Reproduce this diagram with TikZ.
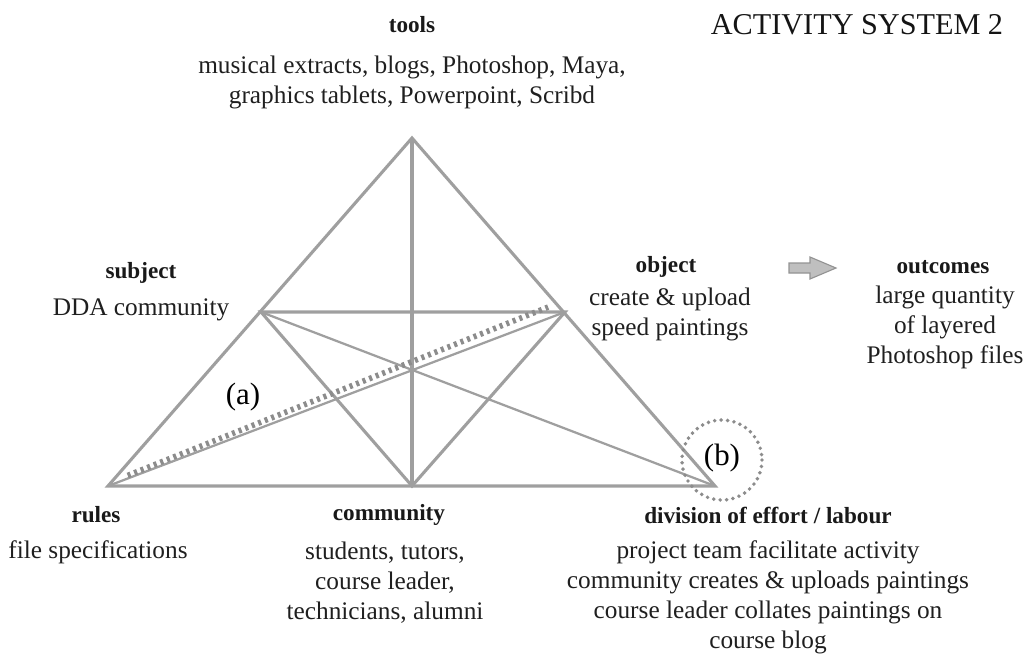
\documentclass[tikz,border=0pt]{standalone}
\usepackage{fontspec}
\setmainfont{Liberation Serif}
\usetikzlibrary{positioning}

\begin{document}
\begin{tikzpicture}[x=0.025cm, y=-0.025cm,
    edge/.style={draw=gray!75, line width=2.2pt, line join=miter},
    thinedge/.style={draw=gray!75, line width=1.6pt},
    head/.style={font=\fontsize{16.5}{19}\selectfont\bfseries, text=black!90},
    body/.style={font=\fontsize{18}{21.3}\selectfont, text=black!88, align=center},
    tag/.style={font=\fontsize{22}{24}\selectfont, text=black}]
    \useasboundingbox (0,0) rectangle (1034,654);
    % corners of the triangle
    \coordinate (tl) at (412,138);
    \coordinate (rl) at (108,486);
    \coordinate (dv) at (715,486);
    \coordinate (sb) at (261,312);
    \coordinate (ob) at (565,312);
    \coordinate (cm) at (412,486);
    % lines
    \draw[edge] (rl) -- (tl) -- (dv) -- cycle;
    \draw[edge] (sb) -- (ob) -- (cm) -- cycle;
    \draw[edge] (tl) -- (cm);
    \draw[thinedge] (sb) -- (dv);
    \draw[thinedge] (rl) -- (ob);
    \draw[draw=gray!90, line width=4pt, dash pattern=on 2.2pt off 2.8pt]
        ([xshift=14pt, yshift=7.5pt]rl) -- ([xshift=-12pt, yshift=3.5pt]ob);
    \draw[draw=gray!90, line width=2.8pt, line cap=round, dash pattern=on 0pt off 4.6pt]
        (722,460) circle [radius=40];
    \node[tag] (a) at (243,397) {(a)};
    \node[tag] (b) at (722,458) {(b)};
    % arrow to outcomes
    \draw[draw=gray!85, fill=gray!50, line width=0.8pt] (789,263) -- (810,263) -- (810,257)
        -- (836,268) -- (810,279) -- (810,273) -- (789,273) -- cycle;
    % labels
    \node[font=\fontsize{21.5}{24}\selectfont, text=black!92] (title) at (857,25) {ACTIVITY SYSTEM 2};
    \node[head] (toolsh) at (412,25) {tools};
    \node[body] (toolst) at (412,82) {musical extracts, blogs, Photoshop, Maya,\\graphics tablets, Powerpoint, Scribd};
    \node[head] (subjh) at (141,273) {subject};
    \node[body] (subjt) at (141,310) {DDA community};
    \node[head] (objh) at (666,267) {object};
    \node[body] (objt) at (670,314) {create \& upload\\speed paintings};
    \node[head] (outh) at (943,267) {outcomes};
    \node[body] (outt) at (945,327) {large quantity\\of layered\\Photoshop files};
    \node[head] (rulh) at (96,515) {rules};
    \node[body] (rult) at (98,552) {file specifications};
    \node[head] (comh) at (389,515) {community};
    \node[body] (comt) at (385,583) {students, tutors,\\course leader,\\technicians, alumni};
    \node[head] (divh) at (768,515) {division of effort / labour};
    \node[body] (divt) at (768,597) {project team facilitate activity\\community creates \& uploads paintings\\course leader collates paintings on\\course blog};
\end{tikzpicture}
\end{document}
